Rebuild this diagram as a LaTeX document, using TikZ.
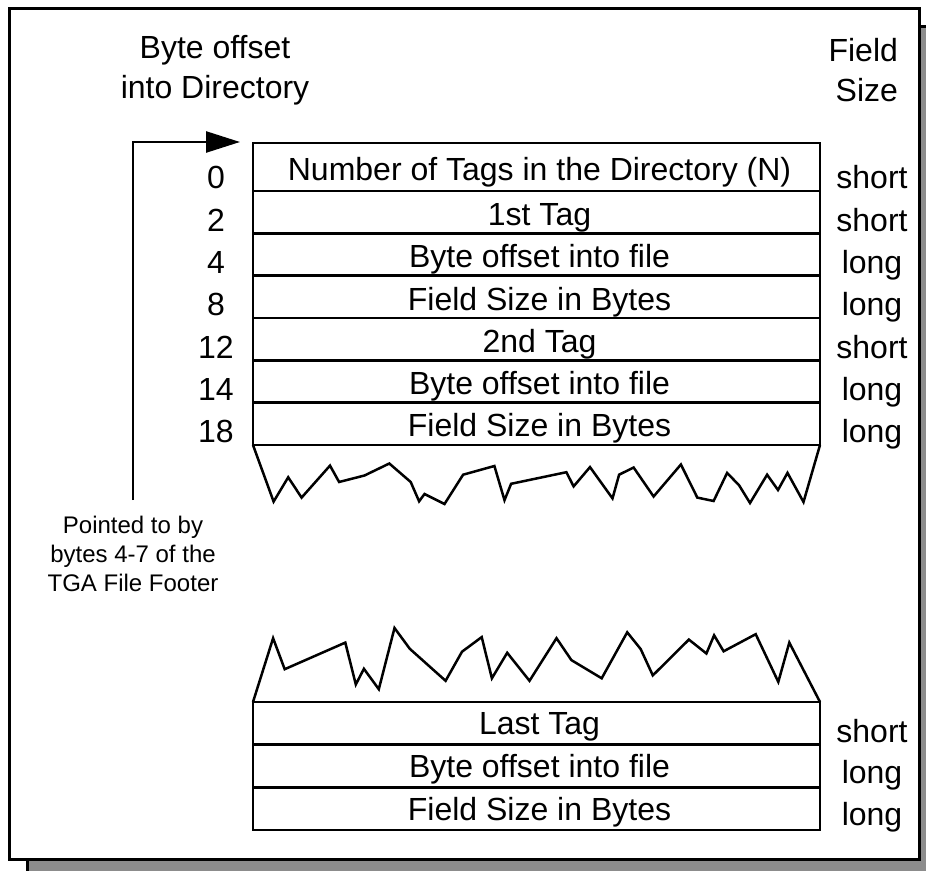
\documentclass[tikz,border=0pt]{standalone}
\usepackage{fontspec}
\setmainfont{Liberation Sans}
\usetikzlibrary{arrows.meta}
\definecolor{shadowgray}{HTML}{8C8C8C}
\begin{document}
\begin{tikzpicture}[x=0.5pt,y=-0.5pt,
  big/.style={font=\fontsize{16pt}{20pt}\selectfont},
  small/.style={font=\fontsize{12pt}{14.5pt}\selectfont},
  cell/.style={draw, line width=1.25pt, minimum width=283.5pt, inner sep=0pt, outer sep=0pt,
    anchor=north west},
  ctext/.style={big, inner sep=0pt, text height=11.5pt, text depth=0pt},
  lbl/.style={big, inner sep=0pt, text height=11.5pt, text depth=0pt},
  jag/.style={line width=1.25pt, line join=miter},
  frame/.style={line width=1.5pt}]
\useasboundingbox (0,0) rectangle (926,871);
\begin{scope}
  \clip (0,0) rectangle (926,871);
  \draw[frame, fill=shadowgray] (27,27) rectangle (940,885);
\end{scope}
\draw[frame, fill=white] (9,9) rectangle (919,859);

% headings
\node[big, align=center] (hoff) at (215,70) {Byte offset\\into Directory};
\node[big, align=right, anchor=east] (hsize) at (905,70) {Field\\Size};

% upper table
\node[cell, minimum height=24pt] (r1) at (253,143) {};
\node[cell, minimum height=21.1667pt] (r2) at (r1.south west) {};
\node[cell, minimum height=21.1667pt] (r3) at (r2.south west) {};
\node[cell, minimum height=21.1667pt] (r4) at (r3.south west) {};
\node[cell, minimum height=21.1667pt] (r5) at (r4.south west) {};
\node[cell, minimum height=21.1667pt] (r6) at (r5.south west) {};
\node[cell, minimum height=21.1667pt] (r7) at (r6.south west) {};
\node[ctext] (t1) at ([xshift=1.5pt,yshift=-1.2pt]r1.center) {Number of Tags in the Directory (N)};
\node[ctext] (t2) at ([xshift=1.5pt,yshift=-1pt]r2.center) {1st Tag};
\node[ctext] (t3) at ([xshift=1.5pt,yshift=-1pt]r3.center) {Byte offset into file};
\node[ctext] (t4) at ([xshift=1.5pt,yshift=-1pt]r4.center) {Field Size in Bytes};
\node[ctext] (t5) at ([xshift=1.5pt,yshift=-1pt]r5.center) {2nd Tag};
\node[ctext] (t6) at ([xshift=1.5pt,yshift=-1pt]r6.center) {Byte offset into file};
\node[ctext] (t7) at ([xshift=1.5pt,yshift=-0.8pt]r7.center) {Field Size in Bytes};

% lower table
\node[cell, minimum height=21.3333pt] (s1) at (253,702) {};
\node[cell, minimum height=21.3333pt] (s2) at (s1.south west) {};
\node[cell, minimum height=21.3333pt] (s3) at (s2.south west) {};
\node[ctext] (u1) at ([xshift=1.5pt]s1.center) {Last Tag};
\node[ctext] (u2) at ([xshift=1.5pt]s2.center) {Byte offset into file};
\node[ctext] (u3) at ([xshift=1.5pt]s3.center) {Field Size in Bytes};

% offsets
\node[lbl] (o0) at (216,177) {0};
\node[lbl] (o2) at (216,220) {2};
\node[lbl] (o4) at (216,262) {4};
\node[lbl] (o8) at (216,304) {8};
\node[lbl] (o12) at (216,347) {12};
\node[lbl] (o14) at (216,389) {14};
\node[lbl] (o18) at (216,431) {18};

% sizes
\node[lbl] (z1) at (872,177) {short};
\node[lbl] (z2) at (872,220) {short};
\node[lbl] (z3) at (872,262) {long};
\node[lbl] (z4) at (872,304) {long};
\node[lbl] (z5) at (872,347) {short};
\node[lbl] (z6) at (872,389) {long};
\node[lbl] (z7) at (872,431) {long};
\node[lbl] (z8) at (872,731) {short};
\node[lbl] (z9) at (872,772) {long};
\node[lbl] (z10) at (872,814) {long};

% pointer
\node[small, align=center] (ptxt) at (133,554) {Pointed to by\\bytes 4-7 of the\\TGA File Footer};
\coordinate (pstart) at (133,500);
\coordinate (ptip) at (240,142);
\draw[line width=1.25pt, -{Triangle[length=17pt,width=10.5pt]}] (pstart) |- (ptip);

% torn edges
\draw[jag] (r7.south west) -- (273.6,501.6) -- (288.2,477.3) -- (301.6,497.6) -- (330,465.6)
  -- (339.1,482) -- (364.5,475.5) -- (389.3,463.5) -- (410.7,482) -- (419.1,501.3)
  -- (424.5,494) -- (444.5,504) -- (463.1,474.7) -- (494.4,466) -- (504.5,500.2)
  -- (511.1,483.8) -- (566.4,472.2) -- (573.6,486.4) -- (590,467.1) -- (612.5,498.4)
  -- (619.1,474.7) -- (633.6,467.5) -- (653.6,496.5) -- (680.9,464.5) -- (697.3,497.6)
  -- (713.6,501) -- (727.1,472.9) -- (739.1,485.3) -- (750,503) -- (767.1,474.7)
  -- (778,490) -- (787.5,472.9) -- (803.5,502) -- (r7.south east);
\draw[jag] (s1.north west) -- (273.1,638.2) -- (284.7,669.2) -- (345.3,642.6) -- (355.8,684.5)
  -- (363.9,668.8) -- (378.8,689.2) -- (394.5,628) -- (409.8,648.8) -- (445.6,680.8)
  -- (462,651.7) -- (481.7,637.1) -- (491.9,678.3) -- (507.2,652.8) -- (529.5,680.8)
  -- (556.5,638.2) -- (571.4,660.1) -- (601.7,678.3) -- (627.2,632.3) -- (640.7,649.1)
  -- (652.8,675.4) -- (688.9,639.6) -- (706.4,653.5) -- (714.1,635.3) -- (723.6,651.3)
  -- (755.7,634.2) -- (778.3,681.9) -- (789.3,642.6) -- (s1.north east);
\end{tikzpicture}
\end{document}
